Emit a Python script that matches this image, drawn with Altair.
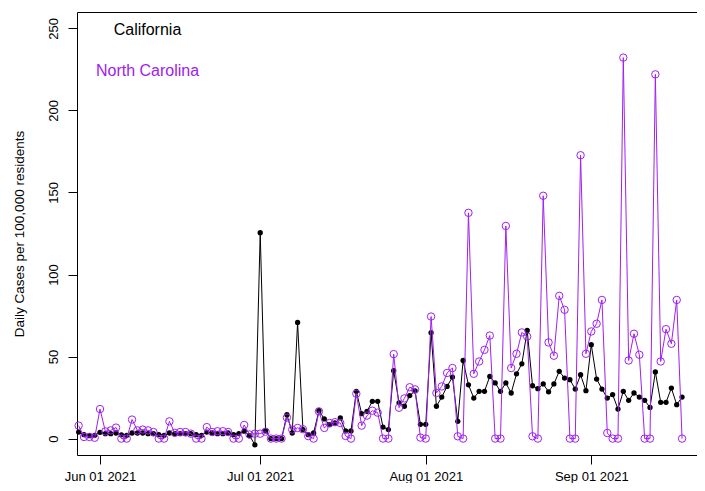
import altair as alt
import pandas as pd

start_date = "2021-05-28"

california = [
    4, 2.4, 1.8, 2, 3.8, 3, 3, 3.4, 2.3, 2,
    3.4, 3.4, 3.4, 3, 3, 2.4, 2, 3.4, 3, 3,
    3, 3, 2.4, 2, 4, 3.4, 3, 3, 3.4, 2.4,
    3, 4.5, 1.8, -3.8, 125.5, 4.7, 0, 0, 0, 14.6,
    3.4, 70.8, 5.5, 2.4, 3.4, 17, 12, 8.5, 9.5, 12.6,
    4.7, 4.7, 28.8, 15.2, 16.6, 22.7, 22.7, 7, 5.5, 41.4,
    21.8, 19.7, 26.2, 29, 8.7, 8.7, 64.5, 19.7, 25.3, 31.8,
    37.5, 10.5, 47.6, 32.8, 24.7, 28.8, 28.8, 37.9, 33.9, 28.8,
    33.9, 27.8, 39.5, 45.6, 65.9, 32.2, 30.4, 33.3, 28.5, 33.3,
    41, 36.9, 35.9, 30.2, 38.9, 29.2, 57.2, 36.3, 30.2, 24.7,
    26.8, 18, 28.8, 23.3, 27.8, 25.3, 23.3, 19, 40.6, 22.1,
    22.1, 30.8, 20.7, 25.3,
]

north_carolina = [
    7.9, 1, 1, 0.5, 18, 4.4, 5, 6.7, 0, 0,
    11.6, 5, 5.5, 5, 4, 0, 0, 10.5, 3.5, 4,
    4, 3, 0, 0, 7, 4, 4.5, 4.5, 4, 0,
    0, 8.3, 2.5, 3, 3, 4.2, 0, 0, 0, 12.8,
    5.5, 6.5, 5.7, 1.5, 0, 16.6, 6.5, 9.5, 10, 9.5,
    1.6, 0, 27.4, 7.9, 14, 17, 15.8, 0, 0, 51.5,
    18.8, 24.5, 31.3, 30, 0.6, 0, 74.4, 27.8, 31.8, 40,
    43, 1.4, 0, 137.6, 39.5, 47, 54.1, 62.8, 0, 0,
    129.6, 43, 51.7, 64.7, 62.2, 1.4, 0, 148, 58.6, 50.5,
    87, 78.5, 0, 0, 172.7, 51.7, 65.3, 70, 84.5, 3.4,
    0, 0, 232.2, 47.6, 63.9, 51.1, 0, 0, 222, 47,
    66.7, 57.8, 84.5, 0,
]

states = ["California", "North Carolina"]
state_colors = ["black", "#A020F0"]
x_tick_dates = [(2021, 6, 1), (2021, 7, 1), (2021, 8, 1), (2021, 9, 1)]
y_ticks = [0, 50, 100, 150, 200, 250]
y_title = "Daily Cases per 100,000 residents"

dates = pd.date_range(start_date, periods=len(california), freq="D")
df = pd.DataFrame({
    "date": dates.strftime("%Y-%m-%d"),
    "California": california,
    "North Carolina": north_carolina,
})
long = df.melt("date", var_name="state", value_name="cases")

epoch = pd.Timestamp("1970-01-01")
ref = pd.Timestamp("2021-06-01")
x_left = int((ref + pd.Timedelta(days=-4.31) - epoch) / pd.Timedelta(milliseconds=1))
x_right = int((ref + pd.Timedelta(days=111.8) - epoch) / pd.Timedelta(milliseconds=1))

FONT = "Liberation Sans"

x_enc = alt.X(
    "date:T",
    scale=alt.Scale(type="utc", domain=[x_left, x_right], nice=False),
    axis=alt.Axis(
        values=[alt.DateTime(year=y, month=m, date=d, utc=True) for (y, m, d) in x_tick_dates],
        format="%b %d %Y",
        title=None,
        tickSize=9,
        labelPadding=6,
        labelFontSize=13,
        labelAngle=0,
        labelFlush=False,
        labelOverlap=False,
        domain=False,
        grid=False,
    ),
)
y_enc = alt.Y(
    "cases:Q",
    scale=alt.Scale(domain=[-10, 260], nice=False, zero=False),
    axis=alt.Axis(
        values=y_ticks,
        title=y_title,
        tickSize=9,
        labelPadding=11,
        labelFontSize=13,
        labelAngle=270,
        labelAlign="center",
        labelBaseline="alphabetic",
        labelFlush=False,
        labelOverlap=False,
        domain=False,
        grid=False,
        titleFontSize=13.5,
        titleFontWeight="normal",
        titleAngle=270,
        titleAlign="center",
        titleBaseline="alphabetic",
        titleX=-54,
        titleY=221.5,
    ),
)

base = alt.Chart(long).encode(x=x_enc, y=y_enc)

ca = base.transform_filter(alt.datum.state == states[0])
nc = base.transform_filter(alt.datum.state == states[1])

ca_line = ca.mark_line(color=state_colors[0], strokeWidth=1)
ca_pts = ca.mark_point(color=state_colors[0], filled=True, size=28, opacity=1)
nc_line = nc.mark_line(color=state_colors[1], strokeWidth=1)
nc_pts = nc.mark_point(color=state_colors[1], filled=False, size=55, strokeWidth=1, opacity=1)

leg_df = pd.DataFrame({"state": states})
leg_ca = alt.Chart(leg_df).transform_filter(alt.datum.state == states[0]).mark_text(
    align="center", baseline="alphabetic", fontSize=16, font=FONT, color=state_colors[0]
).encode(text="state:N", x=alt.value(70.5), y=alt.value(23))
leg_nc = alt.Chart(leg_df).transform_filter(alt.datum.state == states[1]).mark_text(
    align="center", baseline="alphabetic", fontSize=16, font=FONT, color=state_colors[1]
).encode(text="state:N", x=alt.value(70.5), y=alt.value(64))

chart = alt.layer(ca_line, ca_pts, nc_line, nc_pts, leg_ca, leg_nc).properties(
    width=620,
    height=443,
    padding={"left": 69, "top": 4, "right": 0, "bottom": 28},
    autosize=alt.AutoSizeParams(type="none"),
    background="white",
).configure_view(
    stroke="black", strokeWidth=1
).configure_axis(
    labelFont=FONT, titleFont=FONT, labelColor="black", titleColor="black",
    tickColor="black", tickWidth=1,
)

chart.save("out.html", embed_options={"renderer": "svg", "actions": False})
